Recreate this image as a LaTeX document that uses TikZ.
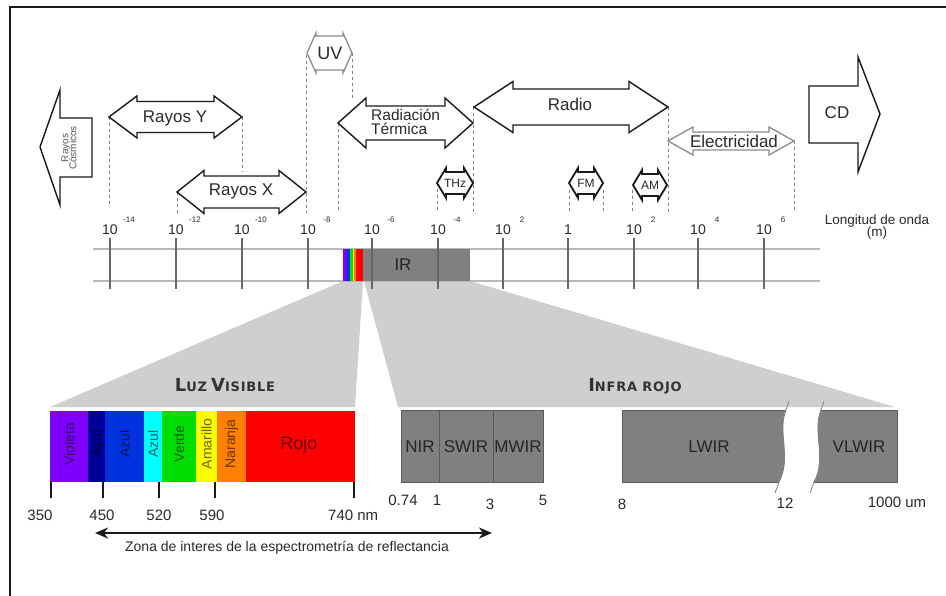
\documentclass[tikz,border=0pt]{standalone}
\usepackage{fontspec}
\setmainfont{Liberation Sans}
\newfontfamily\capsfont[LetterSpace=6]{DejaVu Sans}
\usetikzlibrary{arrows.meta}
\definecolor{fan}{HTML}{CFCFCF}
\definecolor{irg}{HTML}{808080}
\definecolor{irline}{HTML}{5A5A5A}
\definecolor{violeta}{HTML}{8000FF}
\definecolor{azulA}{HTML}{000099}
\definecolor{azulB}{HTML}{0033DD}
\definecolor{azulC}{HTML}{00FFFF}
\definecolor{verde}{HTML}{00DD00}
\definecolor{amarillo}{HTML}{FFFF00}
\definecolor{naranja}{HTML}{FF8000}
\definecolor{rojo}{HTML}{FF0000}
\definecolor{txt}{HTML}{2A2A2A}
\newcommand{\fs}[1]{\fontsize{#1}{#1}\selectfont}
\newcommand{\dblarr}[7][]{%
  \filldraw[arr,#1] (#2,#4) -- ({#2+#5},{#4-#7}) -- ({#2+#5},{#4-#6}) -- ({#3-#5},{#4-#6}) -- ({#3-#5},{#4-#7}) -- (#3,#4) -- ({#3-#5},{#4+#7}) -- ({#3-#5},{#4+#6}) -- ({#2+#5},{#4+#6}) -- ({#2+#5},{#4+#7}) -- cycle;}
\newcommand{\bigsc}[1]{{\fs{18}#1}}
\newcommand{\smsc}[1]{{\fs{13}#1}}
\begin{document}
\begin{tikzpicture}[x=1pt,y=-1pt,
  arr/.style={draw=black!90, fill=white, line width=1.4pt, line join=miter},
  grayarr/.style={draw=black!45, line width=1.3pt},
  smallarr/.style={line width=1.8pt},
  lbl/.style={font=\fs{17}, text=txt, inner sep=0pt},
  dotln/.style={draw=black!50, line width=1pt, dash pattern=on 3pt off 3pt},
  num/.style={font=\fs{14}, text=txt, inner sep=0pt},
  supn/.style={font=\fs{8}, text=txt, inner sep=0pt},
  tickln/.style={draw=black!60, line width=1.3pt},
  scaleln/.style={draw=black!28, line width=1.5pt},
  band/.style={font=\fs{14}, rotate=90, text=black, text opacity=0.6, inner sep=0pt},
  irbox/.style={fill=irg, draw=irline, line width=0.8pt},
  irtxt/.style={font=\fs{17}, text=black!85, inner sep=0pt},
  bnum/.style={font=\fs{15}, text=txt, inner sep=0pt},
  brk/.style={draw=black!50, line width=0.8pt},
  frame/.style={draw=black!90, line width=2.2pt}
]
\useasboundingbox (0,0) rectangle (946,596);
\fill[white] (0,0) rectangle (946,596);
\draw[frame] (10,596) -- (10,7) -- (946,7);

% ---- dotted guide lines
\draw[dotln] (109,117) -- (109,205);
\draw[dotln] (242,117) -- (242,172);
\draw[dotln] (177,192) -- (177,215);
\draw[dotln] (306,55) -- (306,213);
\draw[dotln] (352,53) -- (352,100);
\draw[dotln] (338,123) -- (338,213);
\draw[dotln] (473,107) -- (473,213);
\draw[dotln] (437,183) -- (437,212);
\draw[dotln] (569,190) -- (569,213);
\draw[dotln] (603,190) -- (603,213);
\draw[dotln] (632,190) -- (632,213);
\draw[dotln] (668,107) -- (668,213);
\draw[dotln] (794,141) -- (794,213);

% ---- block arrows
\filldraw[arr] (40,147) -- (60,90) -- (60,118) -- (92,118) -- (92,177) -- (60,177) -- (60,205) -- cycle;
\node[font=\fs{10}, text=black!65, rotate=90, align=center, inner sep=0pt] (cosm) at (69,148) {Rayos\\[-2pt]Cósmicos};
\dblarr{109}{242}{117}{28}{15.5}{21}
\node[lbl] (ry) at (175,118) {Rayos Y};
\dblarr{177}{306}{192}{27}{16}{21.5}
\node[lbl] (rx) at (241,191) {Rayos X};
\dblarr[grayarr]{307}{352}{53}{9}{17}{20}
\node[lbl, font=\fs{18}] (uv) at (330,53) {UV};
\dblarr{338}{473}{123}{28}{17}{25}
\node[lbl, font=\fs{15.5}, align=left, anchor=west] (rt) at (371,122) {Radiación\\[-1pt]Térmica};
\dblarr{474}{668}{107}{39}{18}{25.5}
\node[lbl] (radio) at (570,104) {Radio};
\dblarr[smallarr]{437}{473}{183}{9}{11}{15}
\node[lbl, font=\fs{12}] (thz) at (455,183) {THz};
\dblarr[smallarr]{569}{603}{183}{9}{11}{15}
\node[lbl, font=\fs{12}] (fm) at (586,183) {FM};
\dblarr[smallarr]{633}{667}{185}{9}{11}{15}
\node[lbl, font=\fs{12}] (am) at (650,185) {AM};
\dblarr[grayarr]{668}{794}{141}{25}{9}{14}
\node[lbl] (elec) at (734,141) {Electricidad};
\filldraw[arr] (880,114) -- (858,57) -- (858,86) -- (809,86) -- (809,143) -- (858,143) -- (858,172) -- cycle;
\node[lbl] (cd) at (837,113) {CD};

% ---- fans
\fill[fan] (343,281) -- (363,281) -- (355,407) -- (50,407) -- cycle;
\fill[fan] (364,281) -- (470,281) -- (895,407) -- (398,407) -- cycle;

% ---- scale
\draw[scaleln] (93,249) -- (820,249);
\draw[scaleln] (93,281) -- (820,281);
\fill[violeta] (343,249) rectangle (347,281);
\fill[azulB] (347,249) rectangle (350,281);
\fill[verde] (350,249) rectangle (353,281);
\fill[amarillo] (353,249) rectangle (354,281);
\fill[naranja] (354,249) rectangle (356,281);
\fill[rojo] (356,249) rectangle (363,281);
\fill[irg] (363,249) rectangle (470,281);
\node[irtxt] (irs) at (403,265) {IR};
\foreach \x [count=\i] in {110,176,242,308,372,438,503,568,634,698,764}
  \draw[tickln] (\x,238) -- (\x,289);
\foreach \x/\e [count=\i] in {110/-14,176/-12,242/-10,308/-8,372/-6,438/-4,503/2,634/2,698/4,764/6}{
  \node[num] (p\i) at (\x,230) {10};
  \node[supn] (s\i) at (\x+19,220) {\e};
}
\node[num] (pone) at (568,230) {1};
\node[font=\fs{13.5}, text=txt, align=center, inner sep=0pt] (lo) at (877,227) {Longitud de onda\\[-1pt](m)};

% ---- titles
\node[text=black!80, inner sep=0pt] (luz) at (225,385) {\capsfont\bfseries\bigsc{L}\smsc{UZ} \bigsc{V}\smsc{ISIBLE}};
\node[text=black!80, inner sep=0pt] (infra) at (635,386) {\capsfont\bfseries\bigsc{I}\smsc{NFRA ROJO}};

% ---- visible bands
\fill[violeta] (50,411) rectangle (88,482);
\fill[azulA] (88,411) rectangle (105,482);
\fill[azulB] (105,411) rectangle (144,482);
\fill[azulC] (144,411) rectangle (162,482);
\fill[verde] (162,411) rectangle (196,482);
\fill[amarillo] (196,411) rectangle (217,482);
\fill[naranja] (217,411) rectangle (246,482);
\fill[rojo] (246,411) rectangle (355,482);
\node[band] (bv) at (69,444) {Violeta};
\node[band] (ba1) at (96.5,444) {Azul};
\node[band] (ba2) at (124.5,444) {Azul};
\node[band] (ba3) at (153,444) {Azul};
\node[band] (bve) at (179,444) {Verde};
\node[band] (bam) at (206.5,444) {Amarillo};
\node[band] (bna) at (231.5,444) {Naranja};
\node[font=\fs{18}, text=black, text opacity=0.6, inner sep=0pt] (bro) at (299,445) {Rojo};
\foreach \x in {51,103,159,215,354}
  \draw[draw=black!90, line width=2pt] (\x,482) -- (\x,498);
\node[bnum] (n350) at (40,515) {350};
\node[bnum] (n450) at (102,515) {450};
\node[bnum] (n520) at (159,515) {520};
\node[bnum] (n590) at (212,515) {590};
\node[bnum, anchor=west] (n740) at (328,515) {740 nm};

% ---- infrared boxes
\filldraw[irbox] (401,410) rectangle (543,482);
\draw[draw=irline, line width=0.8pt] (439,410) -- (439,482);
\draw[draw=irline, line width=0.8pt] (493,410) -- (493,482);
\node[irtxt] (nir) at (420,447) {NIR};
\node[irtxt] (swir) at (466,447) {SWIR};
\node[irtxt] (mwir) at (518,447) {MWIR};
\fill[irg] (622,410) -- (786,410) .. controls (777,432) and (792,458) .. (779,482) -- (622,482) -- cycle;
\draw[draw=irline, line width=0.8pt] (786,410) -- (622,410) -- (622,482) -- (779,482);
\fill[irg] (821,410) -- (897,410) -- (897,482) -- (814,482) .. controls (827,458) and (812,432) .. (821,410) -- cycle;
\draw[draw=irline, line width=0.8pt] (821,410) -- (897,410) -- (897,482) -- (814,482);
\draw[brk] (789,401) -- (786,410) .. controls (777,432) and (792,458) .. (779,482) -- (775,493);
\draw[brk] (824,401) -- (821,410) .. controls (812,432) and (827,458) .. (814,482) -- (810,493);
\node[irtxt] (lwir) at (709,447) {LWIR};
\node[irtxt] (vlwir) at (859,447) {VLWIR};
\node[bnum] (i074) at (403,500) {0.74};
\node[bnum] (i1) at (437,500) {1};
\node[bnum] (i3) at (490,504) {3};
\node[bnum] (i5) at (543,500) {5};
\node[bnum] (i8) at (622,504) {8};
\node[bnum] (i12) at (785,503) {12};
\node[bnum] (i1000) at (897,502) {1000 um};

% ---- zone arrow
\coordinate (zl) at (95,533);
\coordinate (zr) at (492,533);
\draw[line width=2.4pt, draw=black!90, {Stealth[length=13pt,width=11pt,inset=4pt]}-{Stealth[length=13pt,width=11pt,inset=4pt]}] (zl) -- (zr);
\node[font=\fs{14}, text=txt, inner sep=0pt] (zona) at (287,548) {Zona de interes de la espectrometría de reflectancia};
\end{tikzpicture}
\end{document}
